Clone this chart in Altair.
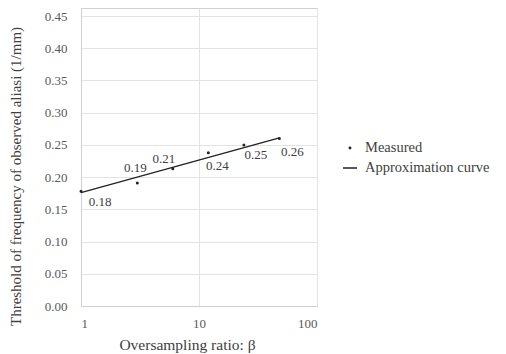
import altair as alt
import pandas as pd

beta = [1, 3, 6, 12, 24, 48]
measured = [0.178, 0.191, 0.213, 0.238, 0.25, 0.26]
labels = ["0.18", "0.19", "0.21", "0.24", "0.25", "0.26"]
fit_beta = [1, 48]
fit_val = [0.176, 0.261]
series = ["Measured", "Approximation curve"]
y_ticks = [0, 0.05, 0.1, 0.15, 0.2, 0.25, 0.3, 0.35, 0.4, 0.45]
x_ticks = [1, 10, 100]

FONT = "Liberation Serif"

pts = pd.DataFrame({"beta": beta, "val": measured, "label": labels, "series": series[0]})
fit = pd.DataFrame({"beta": fit_beta, "val": fit_val, "series": series[1]})

xscale = alt.Scale(type="log", domain=[1, 100])
yscale = alt.Scale(domain=[0, 0.4625], nice=False, zero=True)
xax = alt.Axis(values=x_ticks, format="d", title="Oversampling ratio:  β", ticks=False,
               labelPadding=11, titleX=106, titleY=38, titleBaseline="middle",
               titleFontSize=15.5,
               gridColor="#e3e3e3", domainColor="#d0d0d0", labelOverlap=False)
yax = alt.Axis(values=y_ticks, format=".2f",
               title="Threshold of frequency of observed aliasi (1/mm)", ticks=False,
               labelPadding=14, titleX=-66, titleY=168, titleBaseline="middle",
               titleFontSize=15,
               gridColor="#e3e3e3", domainColor="#d0d0d0", labelOverlap=False)

X = alt.X("beta:Q", scale=xscale, axis=xax)
Y = alt.Y("val:Q", scale=yscale, axis=yax)

dot = "M-0.1,0A0.1,0.1 0 1,0 0.1,0A0.1,0.1 0 1,0 -0.1,0Z"
dash = "M-1,0L1,0"
shape_scale = alt.Scale(domain=series, range=[dot, dash])

line = alt.Chart(fit).mark_line(color="#222222", strokeWidth=1.3).encode(x=X, y=Y)

points = alt.Chart(pts).mark_point(filled=False, color="#222222", size=196, opacity=1,
                                   strokeWidth=1.6).encode(
    x=X,
    y=Y,
    shape=alt.Shape("series:N", scale=shape_scale,
                    legend=alt.Legend(title=None, orient="none", legendX=261, legendY=132,
                                      symbolSize=196, symbolStrokeColor="#222222",
                                      symbolStrokeWidth=1.5,
                                      labelFont=FONT, labelFontSize=14.5, labelColor="#404040",
                                      rowPadding=5, labelOffset=7)),
)

offsets = [(19, 11), (-2, -15), (-9, -10), (9, 13), (12, 10), (13, 14)]
label_layers = []
for i, (dx, dy) in enumerate(offsets):
    label_layers.append(
        alt.Chart(pts.iloc[[i]]).mark_text(font=FONT, fontSize=13, color="#404040", dx=dx, dy=dy).encode(
            x=X, y=Y, text="label:N",
        )
    )

chart = alt.layer(line, points, *label_layers).properties(
    width=236, height=298,
    padding={"left": 73, "top": 0, "right": 181, "bottom": 48},
    autosize="none",
).configure(font=FONT).configure_view(stroke="#d0d0d0").configure_axis(
    labelFont=FONT, titleFont=FONT, labelFontSize=13,
    labelColor="#595959", titleColor="#404040", titleFontWeight="normal",
).configure_legend(labelFont=FONT)

chart.save("out.html", embed_options={"renderer": "svg", "actions": False})
